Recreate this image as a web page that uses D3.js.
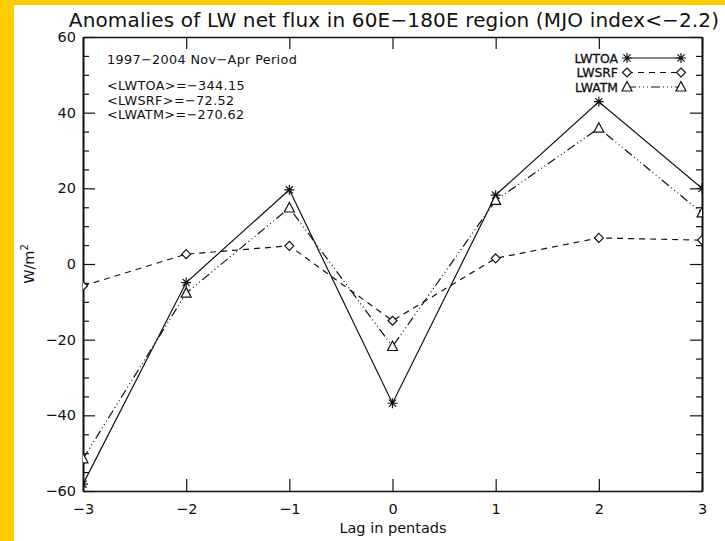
<!DOCTYPE html>
<html>
<head>
<meta charset="utf-8">
<script src="https://cdn.jsdelivr.net/npm/d3@7"></script>
<style>
  html, body { margin: 0; padding: 0; background: #fff; }
  svg { display: block; }
  .axis path, .axis line { stroke: #111; }
  .axis text { font-family: "DejaVu Sans", sans-serif; font-size: 14.5px; fill: #111; }
</style>
</head>
<body>
<svg id="chart"></svg>
<script>
// values
const lags = [-3, -2, -1, 0, 1, 2, 3];
const lwtoa = [-58.2, -4.9, 19.6, -36.8, 18.2, 42.9, 20.0];
const lwsrf = [-5.8, 2.6, 4.8, -15.0, 1.5, 6.9, 6.3];
const lwatm = [-51.5, -7.7, 14.8, -21.8, 16.8, 35.9, 13.5];

const seriesNames = ['LWTOA', 'LWSRF', 'LWATM'];
const xTicks = [-3, -2, -1, 0, 1, 2, 3];
const yTicks = [-60, -40, -20, 0, 20, 40, 60];
const yMinor = [-55, -50, -45, -35, -30, -25, -15, -10, -5, 5, 10, 15, 25, 30, 35, 45, 50, 55];

const titleText = 'Anomalies of LW net flux in 60E\u2212180E region (MJO index<\u22122.2)';
const notes = ['1997\u22122004 Nov\u2212Apr Period', '<LWTOA>=\u2212344.15', '<LWSRF>=\u221272.52', '<LWATM>=\u2212270.62'];

const W = 725, H = 541;
const plot = { left: 83, right: 702, top: 37, bottom: 491 };

const svg = d3.select('#chart').attr('width', W).attr('height', H);

// yellow frame on left and top
svg.append('rect').attr('x', 0).attr('y', 0).attr('width', W).attr('height', H).attr('fill', '#ffcc00');
svg.append('rect').attr('x', 14).attr('y', 5).attr('width', W - 14).attr('height', H - 5).attr('fill', '#fff');

const x = d3.scaleLinear().domain([-3, 3]).range([plot.left, plot.right]);
const y = d3.scaleLinear().domain([-60, 60]).range([plot.bottom, plot.top]);

const fmt = d => d < 0 ? '\u2212' + Math.abs(d) : String(d);

// axes, ticks pointing inward
svg.append('g').attr('class', 'axis').attr('transform', `translate(0,${plot.bottom})`)
  .call(d3.axisBottom(x).tickValues(xTicks).tickFormat(fmt).tickSizeInner(-12).tickSizeOuter(0).tickPadding(13));
svg.append('g').attr('class', 'axis').attr('transform', `translate(0,${plot.top})`)
  .call(d3.axisTop(x).tickValues(xTicks).tickFormat('').tickSizeInner(-12).tickSizeOuter(0));
svg.append('g').attr('class', 'axis').attr('transform', `translate(${plot.left},0)`)
  .call(d3.axisLeft(y).tickValues(yTicks).tickFormat(fmt).tickSizeInner(-12).tickSizeOuter(0).tickPadding(7));
svg.append('g').attr('class', 'axis').attr('transform', `translate(${plot.left},0)`)
  .call(d3.axisLeft(y).tickValues(yMinor).tickFormat('').tickSizeInner(-6).tickSizeOuter(0));
svg.append('g').attr('class', 'axis').attr('transform', `translate(${plot.right},0)`)
  .call(d3.axisRight(y).tickValues(yTicks).tickFormat('').tickSizeInner(-12).tickSizeOuter(0));
svg.append('g').attr('class', 'axis').attr('transform', `translate(${plot.right},0)`)
  .call(d3.axisRight(y).tickValues(yMinor).tickFormat('').tickSizeInner(-6).tickSizeOuter(0));
svg.selectAll('.axis path.domain').attr('stroke-width', 1.6);
svg.selectAll('.axis .tick line').attr('stroke-width', 1.2);

// title and axis labels
svg.append('text').attr('x', 394).attr('y', 27).attr('text-anchor', 'middle')
  .attr('font-family', 'DejaVu Sans, sans-serif').attr('font-size', 20).attr('fill', '#111')
  .attr('letter-spacing', 0.15)
  .text(titleText);
svg.append('text').attr('x', 393).attr('y', 533).attr('text-anchor', 'middle')
  .attr('font-family', 'DejaVu Sans, sans-serif').attr('font-size', 14.5).attr('fill', '#111')
  .text('Lag in pentads');
const yl = svg.append('text').attr('transform', `translate(34,${y(0)}) rotate(-90)`).attr('text-anchor', 'middle')
  .attr('font-family', 'DejaVu Sans, sans-serif').attr('font-size', 14.5).attr('fill', '#111');
yl.append('tspan').text('W/m');
yl.append('tspan').attr('dy', -6).attr('font-size', 10).text('2');

// annotation text
svg.append('g').selectAll('text').data(notes).enter().append('text')
  .attr('x', 107).attr('y', (d, i) => i === 0 ? 64 : 75.5 + i * 14.5)
  .attr('font-family', 'DejaVu Sans, sans-serif').attr('font-size', 12.8).attr('fill', '#111')
  .attr('letter-spacing', 0.35)
  .text(d => d);

// clip for data
svg.append('defs').append('clipPath').attr('id', 'plotclip').append('rect')
  .attr('x', plot.left).attr('y', plot.top).attr('width', plot.right - plot.left).attr('height', plot.bottom - plot.top);

const styles = [
  { values: lwtoa, dash: null, sym: 'star' },
  { values: lwsrf, dash: '6,5', sym: 'diamond' },
  { values: lwatm, dash: '9,3,1,3,1,3,1,3', sym: 'triangle' }
];

function symbolPath(type, cx, cy) {
  if (type === 'star') {
    const r = 5, q = 3.6;
    return `M${cx - r},${cy}L${cx + r},${cy}M${cx},${cy - r}L${cx},${cy + r}` +
      `M${cx - q},${cy - q}L${cx + q},${cy + q}M${cx - q},${cy + q}L${cx + q},${cy - q}`;
  }
  if (type === 'diamond') {
    const r = 4.5;
    return `M${cx},${cy - r}L${cx + r},${cy}L${cx},${cy + r}L${cx - r},${cy}Z`;
  }
  return `M${cx},${cy - 5.5}L${cx + 5},${cy + 4}L${cx - 5},${cy + 4}Z`;
}

const data = svg.append('g').attr('clip-path', 'url(#plotclip)');
const line = d3.line().x((d, i) => x(lags[i])).y(d => y(d));

styles.forEach(s => {
  data.append('path').attr('d', line(s.values)).attr('fill', 'none')
    .attr('stroke', '#111').attr('stroke-width', 1.2)
    .attr('stroke-dasharray', s.dash);
  data.append('g').selectAll('path').data(s.values).enter().append('path')
    .attr('d', (d, i) => symbolPath(s.sym, x(lags[i]), y(d)))
    .attr('fill', s.sym === 'star' ? 'none' : '#fff').attr('stroke', '#111').attr('stroke-width', 1.2);
});

// legend
const leg = svg.append('g');
styles.forEach((s, i) => {
  const ly = 58 + i * 14.5;
  leg.append('text').attr('x', 618).attr('y', ly + 4.5).attr('text-anchor', 'end')
    .attr('font-family', 'DejaVu Sans, sans-serif').attr('font-size', 12.4).attr('fill', '#111')
    .attr('stroke', '#111').attr('stroke-width', 0.3)
    .text(seriesNames[i]);
  leg.append('line').attr('x1', 627).attr('x2', 681).attr('y1', ly).attr('y2', ly)
    .attr('stroke', '#111').attr('stroke-width', 1.2).attr('stroke-dasharray', s.dash);
  [627, 681].forEach(cx => {
    leg.append('path').attr('d', symbolPath(s.sym, cx, ly))
      .attr('fill', s.sym === 'star' ? 'none' : '#fff').attr('stroke', '#111').attr('stroke-width', 1.2);
  });
});
</script>
</body>
</html>
